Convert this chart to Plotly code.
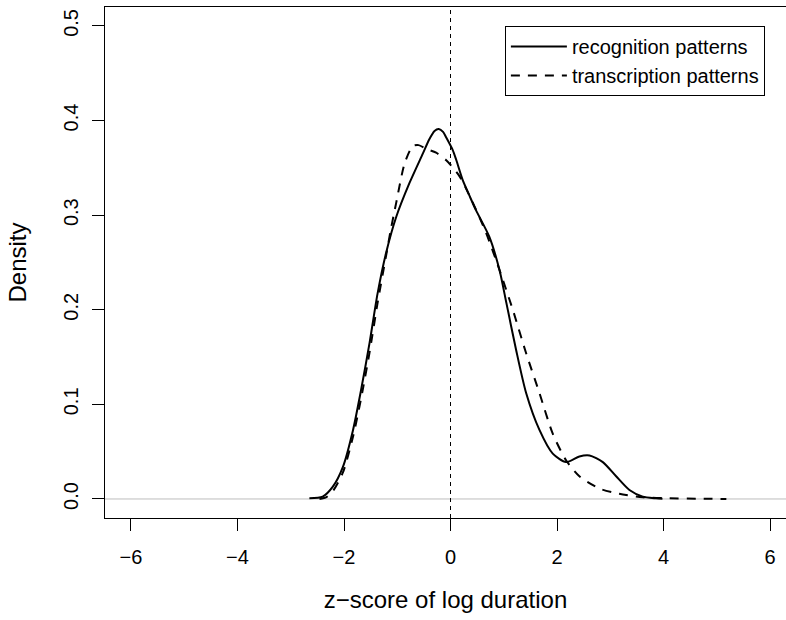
import plotly.graph_objects as go

# recognition patterns (solid)
rec_x = [-2.65, -2.40, -2.21, -2.02, -1.83, -1.68, -1.52, -1.37, -1.21, -1.02, -0.77, -0.52,
         -0.40, -0.30, -0.22, -0.14, -0.08, 0.04, 0.11, 0.23, 0.36, 0.48, 0.73, 0.92, 1.05, 1.23,
         1.42, 1.67, 1.92, 2.17, 2.42, 2.61, 2.86, 3.11, 3.36, 3.61, 3.86, 3.98]
rec_y = [0.0007, 0.0025, 0.013, 0.034, 0.073, 0.115, 0.165, 0.217, 0.260, 0.298, 0.334, 0.365,
         0.380, 0.389, 0.391, 0.388, 0.382, 0.369, 0.358, 0.337, 0.320, 0.305, 0.277, 0.242, 0.207, 0.158,
         0.112, 0.073, 0.048, 0.039, 0.045, 0.046, 0.039, 0.024, 0.0095, 0.0025, 0.0007, 0.0002]

# transcription patterns (dashed)
tra_x = [-2.46, -2.33, -2.20, -2.02, -1.83, -1.68, -1.52, -1.37, -1.21, -1.12, -1.02, -0.86,
         -0.71, -0.60, -0.45, -0.27, -0.08, 0.17, 0.42, 0.67, 0.92, 1.17, 1.42, 1.67, 1.92,
         2.17, 2.42, 2.80, 3.17, 3.61, 4.11, 4.68, 5.18]
tra_y = [0.0, 0.002, 0.009, 0.028, 0.066, 0.106, 0.155, 0.207, 0.257, 0.285, 0.313, 0.355,
         0.373, 0.374, 0.370, 0.366, 0.358, 0.341, 0.313, 0.281, 0.242, 0.200, 0.154, 0.112, 0.069,
         0.041, 0.024, 0.011, 0.0055, 0.0018, 0.0007, 0.0003, 0.0]

x_ticks = [-6, -4, -2, 0, 2, 4, 6]
x_labels = ["\u22126", "\u22124", "\u22122", "0", "2", "4", "6"]
y_ticks = [0.0, 0.1, 0.2, 0.3, 0.4, 0.5]
y_labels = ["0.0", "0.1", "0.2", "0.3", "0.4", "0.5"]

FONT = "Liberation Sans, Arial, Helvetica, sans-serif"

fig = go.Figure()
fig.add_trace(go.Scatter(x=rec_x, y=rec_y, mode="lines", name="recognition patterns",
                         line=dict(color="black", width=2, shape="spline", smoothing=0.7)))
fig.add_trace(go.Scatter(x=tra_x, y=tra_y, mode="lines", name="transcription patterns",
                         line=dict(color="black", width=2, dash="9px,8px", shape="spline", smoothing=0.7)))

# gray baseline at 0 and dashed vertical line at 0
fig.add_shape(type="line", xref="paper", yref="y", x0=0, x1=1, y0=0, y1=0,
              line=dict(color="#bebebe", width=1), layer="below")
fig.add_shape(type="line", xref="x", yref="paper", x0=0, x1=0, y0=0, y1=1,
              line=dict(color="black", width=1, dash="4px,4px"))

fig.update_layout(
    width=786, height=620,
    margin=dict(l=105, r=0, t=7, b=102),
    plot_bgcolor="white", paper_bgcolor="white",
    font=dict(family=FONT, size=20, color="black"),
    showlegend=True,
    legend=dict(x=0.969, y=0.963, xanchor="right", yanchor="top",
                bgcolor="white", bordercolor="black", borderwidth=1,
                font=dict(size=20, color="black"), itemwidth=56, tracegroupgap=0),
    xaxis=dict(range=[-6.488, 6.30], tickvals=x_ticks, ticktext=x_labels,
               showgrid=False, zeroline=False, showline=True, linecolor="black", linewidth=1,
               mirror=True, ticks="outside", ticklen=12, tickcolor="black", tickwidth=1,
               ticklabelstandoff=9,
               title=dict(text="z\u2212score of log duration", standoff=24),
               tickfont=dict(size=20)),
    yaxis=dict(range=[-0.0201, 0.52], tickvals=y_ticks, ticktext=y_labels,
               showgrid=False, zeroline=False, showline=True, linecolor="black", linewidth=1,
               mirror=False, ticks="outside", ticklen=12, tickcolor="black", tickwidth=1,
               ticklabelstandoff=6,
               tickangle=-90, title=dict(text="Density", standoff=26),
               tickfont=dict(size=20)),
)

fig.write_html("out.html")
